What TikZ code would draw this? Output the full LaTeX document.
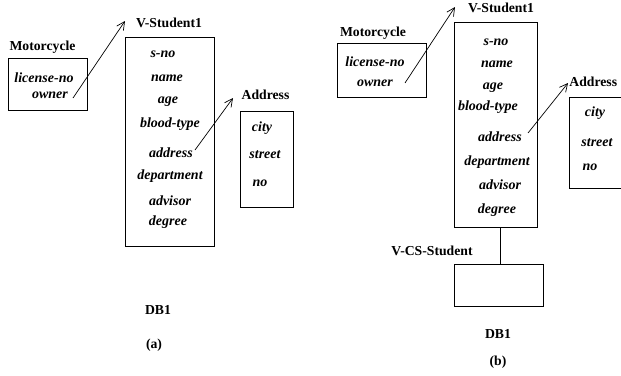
\documentclass[tikz,border=0pt]{standalone}
\usepackage{fontspec}
\setmainfont{Liberation Serif}
\usetikzlibrary{arrows.meta}
\begin{document}
\begin{tikzpicture}[x=1pt,y=-1pt,
  lbl/.style={inner sep=0pt,font=\fontsize{13.7}{15}\selectfont\bfseries},
  fld/.style={inner sep=0pt,font=\fontsize{14}{15}\selectfont\bfseries\itshape},
  rel/.style={draw,line width=0.8pt,minimum width=#1,anchor=north west,inner sep=0pt},
  link/.style={line width=0.7pt,-{Straight Barb[length=8pt,width=8pt,line width=0.7pt]}},
  every path/.style={line width=0.8pt}]
\useasboundingbox (0,0) rectangle (621,375);

% ---------------- (a) ----------------
\node[lbl] (mlabA) at (42.5,47) {Motorcycle};
\node[rel=79pt,minimum height=52pt] (mboxA) at (8,58) {};
\node[fld] (licA) at (44,78) {license-no};
\node[fld] (ownA) at (50,95) {owner};

\node[lbl] (vlabA) at (169,23) {V-Student1};
\node[rel=89pt,minimum height=209pt] (vboxA) at (125,37) {};
\node[fld] (snoA)  at (163,54)  {s-no};
\node[fld] (nameA) at (167,78)  {name};
\node[fld] (ageA)  at (168,102) {age};
\node[fld] (btA)   at (170,124) {blood-type};
\node[fld] (addrA) at (171,153) {address};
\node[fld] (depA)  at (170,176) {department};
\node[fld] (advA)  at (170,201) {advisor};
\node[fld] (degA)  at (168,222) {degree};

\node[lbl] (alabA) at (265.5,95) {Address};
\node[rel=53pt,minimum height=96pt] (aboxA) at (240,111) {};
\node[fld] (cityA) at (262,128) {city};
\node[fld] (strA)  at (265,155) {street};
\node[fld] (noA)   at (260,183) {no};

\coordinate (oA) at (73,98);
\coordinate (tA) at (125,21);
\draw[link] (oA) -- (tA);
\coordinate (dA) at (195,150);
\coordinate (uA) at (233,98);
\draw[link] (dA) -- (uA);

\node[lbl] (dbA) at (158,310) {DB1};
\node[lbl] (capA) at (154,345) {(a)};

% ---------------- (b) ----------------
\node[lbl] (mlabB) at (373,33) {Motorcycle};
\node[rel=89pt,minimum height=54pt] (mboxB) at (337,43) {};
\node[fld] (licB) at (375,62) {license-no};
\node[fld] (ownB) at (375,83) {owner};

\node[lbl] (vlabB) at (501,8) {V-Student1};
\node[rel=83pt,minimum height=205pt] (vboxB) at (454,22) {};
\node[fld] (snoB)  at (496,42)  {s-no};
\node[fld] (nameB) at (497,64)  {name};
\node[fld] (ageB)  at (493,88)  {age};
\node[fld] (btB)   at (488,107) {blood-type};
\node[fld] (addrB) at (500,137) {address};
\node[fld] (depB)  at (497,162) {department};
\node[fld] (advB)  at (500,185) {advisor};
\node[fld] (degB)  at (497,210) {degree};

\node[lbl,anchor=west] (alabB) at (569,82) {Address};
\node[rel=80pt,minimum height=91pt] (aboxB) at (569,97) {};
\node[fld] (cityB) at (595,113) {city};
\node[fld] (strB)  at (597,143) {street};
\node[fld] (noB)   at (590,167) {no};

\coordinate (oB) at (405,83);
\coordinate (tB) at (455,7);
\draw[link] (oB) -- (tB);
\coordinate (dB) at (528,133);
\coordinate (uB) at (568,83);
\draw[link] (dB) -- (uB);

\node[lbl] (csLab) at (432,251) {V-CS-Student};
\node[rel=89pt,minimum height=42pt] (csBox) at (454,264) {};
\draw (vboxB.south -| 500,0) -- (csBox.north -| 500,0);

\node[lbl] (dbB) at (498,334) {DB1};
\node[lbl] (capB) at (498,362) {(b)};
\end{tikzpicture}
\end{document}
